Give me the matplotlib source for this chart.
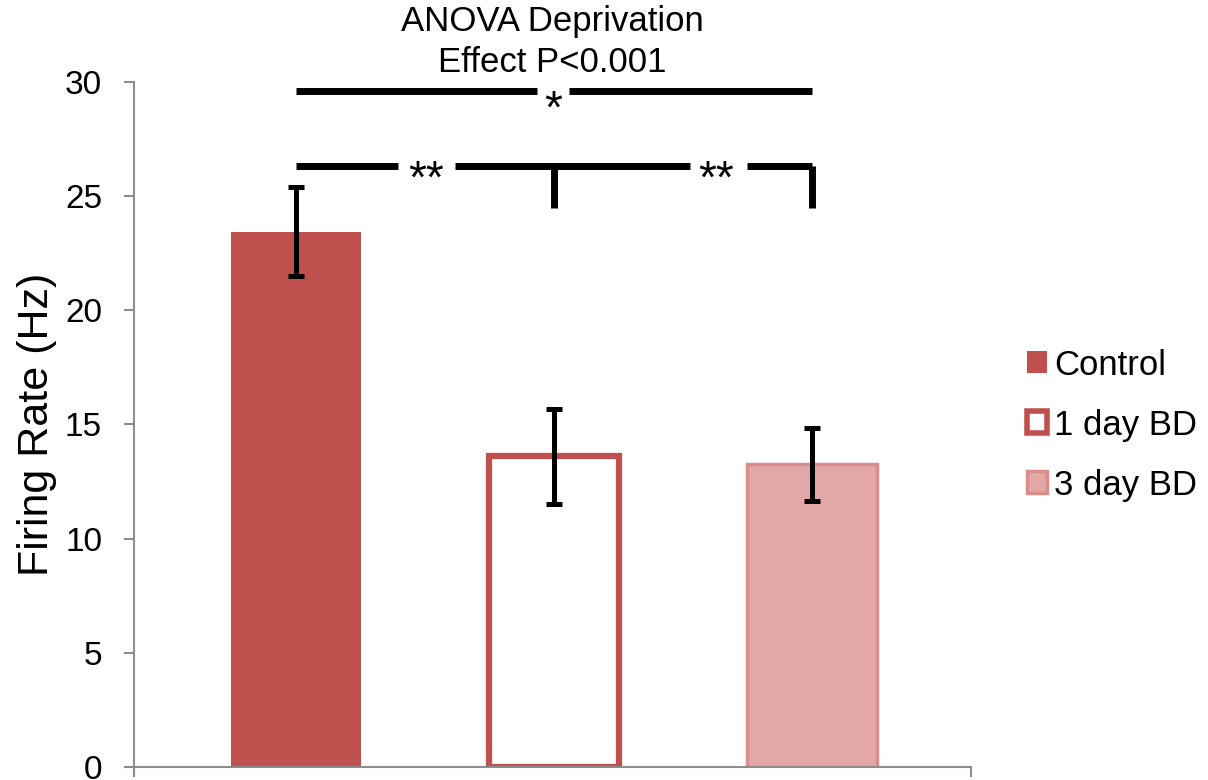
import numpy as np
import matplotlib.pyplot as plt
from matplotlib.patches import Patch

plt.rcParams['font.family'] = ['Liberation Sans', 'DejaVu Sans']

groups = ['Control', '1 day BD', '3 day BD']
rates = [23.45, 13.6, 13.26]
sem = [1.95, 2.08, 1.6]
y_ticks = [0, 5, 10, 15, 20, 25, 30]

red = '#C0504D'
pink = '#E2A7A6'
pink_edge = '#D98E8D'
axis_gray = '#8C8C8C'

fig = plt.figure(figsize=(12.08, 7.8), dpi=100)
ax = fig.add_axes([0.1109, 0.0167, 0.6929, 0.8782])

x = np.arange(len(groups))
face = [red, 'white', pink]
edge = [red, red, pink_edge]
lw = [0, 4.5, 2.5]
for i in range(len(groups)):
    ax.bar(x[i], rates[i], width=0.504, color=face[i], edgecolor=edge[i],
           linewidth=lw[i], label=groups[i], zorder=2)

ax.errorbar(x, rates, yerr=sem, fmt='none', ecolor='black', elinewidth=3.6,
            capsize=6, capthick=3.6, zorder=3)

ax.set_xlim(-0.628, 2.616)
ax.set_ylim(0, 30)
ax.set_yticks(y_ticks)
ax.set_yticklabels([str(t) for t in y_ticks], fontsize=24)
ax.set_xticks([-0.628, 2.616])
ax.set_xticklabels([])
ax.tick_params(axis='y', direction='out', length=7, width=1.5, color=axis_gray, pad=16)
ax.tick_params(axis='x', direction='out', length=7, width=1.5, color=axis_gray)
for side in ['top', 'right']:
    ax.spines[side].set_visible(False)
for side in ['left', 'bottom']:
    ax.spines[side].set_color(axis_gray)
    ax.spines[side].set_linewidth(1.5)

ax.set_ylabel('Firing Rate (Hz)', fontsize=31, labelpad=6)

# significance brackets
kw = dict(color='black', linewidth=5, clip_on=False, solid_capstyle='butt', zorder=4)
ax.plot([0, 0.933], [29.6, 29.6], **kw)
ax.plot([1.059, 2.0], [29.6, 29.6], **kw)
ax.text(0.995, 28.2, '*', ha='center', va='baseline', fontsize=33)

ax.plot([0, 0.395], [26.3, 26.3], **kw)
ax.plot([0.615, 1.527], [26.3, 26.3], **kw)
ax.plot([1.748, 2.0], [26.3, 26.3], **kw)
ax.plot([1.0, 1.0], [26.3, 24.5], **kw)
ax.plot([2.0, 2.0], [26.3, 24.5], **kw)
ax.text(0.506, 25.14, '**', ha='center', va='baseline', fontsize=33)
ax.text(1.628, 25.14, '**', ha='center', va='baseline', fontsize=33)

ax.text(0.995, 31.75, 'ANOVA Deprivation\nEffect P<0.001', ha='center', va='center',
        fontsize=25, linespacing=1.32, clip_on=False)

handles = [Patch(facecolor=red, edgecolor=red, linewidth=0),
           Patch(facecolor='white', edgecolor=red, linewidth=4),
           Patch(facecolor=pink, edgecolor=pink_edge, linewidth=2.5)]
fig.legend(handles, groups, loc='center left', bbox_to_anchor=(0.824, 0.455),
           frameon=False, fontsize=25, handlelength=0.6, handleheight=0.6,
           handletextpad=0.2, labelspacing=0.78)

fig.savefig('out.png', dpi=100)
